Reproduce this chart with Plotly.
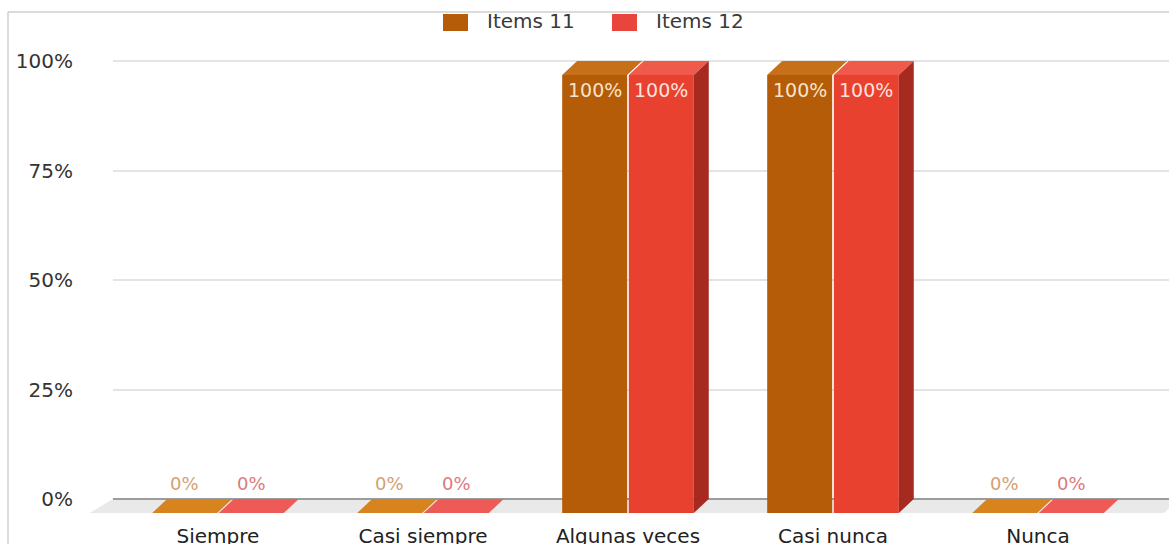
import plotly.graph_objects as go

# ---- data ----
categories = ["Siempre", "Casi siempre", "Algunas veces", "Casi nunca", "Nunca"]
items_11 = [0, 0, 100, 100, 0]
items_12 = [0, 0, 100, 100, 0]
series_names = ["Items 11", "Items 12"]
y_ticks = [0, 25, 50, 75, 100]
y_tick_labels = ["0%", "25%", "50%", "75%", "100%"]

# ---- page geometry (px) ----
W, H = 1169, 544
M_L, M_R, M_T, M_B = 113, 0, 30, 22
PW = W - M_L - M_R
PH = H - M_T - M_B

PX_PER_PCT = 4.38
ZERO_PX = 499
X_RANGE = [-0.512, 4.639]
Y_RANGE = [-(H - M_B - ZERO_PX) / PX_PER_PCT, (ZERO_PX - M_T) / PX_PER_PCT]

BAR_W = 0.317   # bar width in category units
GAP = 0.008     # gap between the two bars of a group
DX = 0.073      # 3-D depth, horizontal (category units)
DY = 3.2        # 3-D depth, vertical (percent units)

FONT = "DejaVu Sans"

# face colours per series
front = ["#B45C07", "#E8412F"]
top = ["#C6701A", "#EF5A4B"]
side = ["#9A4905", "#A62A1F"]
flat = ["#D7841F", "#EE5A55"]
label_in = ["#F7E3CC", "#FBE2DD"]
label_out = ["#D4A074", "#DC7A7C"]
legend_sq = ["#B45C07", "#E8453C"]


def paper_x(px):
    return (px - M_L) / PW


def paper_y(py):
    return (H - M_B - py) / PH


series = [items_11, items_12]
n_series = len(series)
positions = list(range(len(categories)))
offsets = [-BAR_W - GAP / 2, GAP / 2]

fig = go.Figure()

# front faces of the bars (back wall sits at the value, front face is pulled forward by DY)
for s, vals in enumerate(series):
    fig.add_trace(go.Bar(
        x=positions, y=vals, base=-DY, width=BAR_W, offset=offsets[s],
        marker=dict(color=front[s], line=dict(width=0)),
        name=series_names[s], showlegend=False, hoverinfo="skip",
    ))


def poly_trace(xs, ys, color):
    return go.Scatter(x=xs, y=ys, mode="lines", fill="toself", fillcolor=color,
                      line=dict(width=0, color=color), hoverinfo="skip",
                      showlegend=False)


annotations = []
for s, vals in enumerate(series):
    tx, ty, fx, fy, sx, sy = [], [], [], [], [], []
    for i, v in zip(positions, vals):
        x0 = i + offsets[s]
        x1 = x0 + BAR_W
        face_x = [x0, x1, x1 + DX, x0 + DX, x0, None]
        face_y = [v - DY, v - DY, v, v, v - DY, None]
        if v > 0:
            tx += face_x
            ty += face_y
            if s == n_series - 1:
                sx += [x1, x1, x1 + DX, x1 + DX, x1, None]
                sy += [-DY, v - DY, v, 0, -DY, None]
            annotations.append(dict(
                x=(x0 + x1) / 2, y=v - DY, xref="x", yref="y", text=f"{v}%",
                showarrow=False, yshift=-15,
                font=dict(family=FONT, size=19, color=label_in[s]),
            ))
        else:
            fx += face_x
            fy += face_y
            annotations.append(dict(
                x=(x0 + x1) / 2, y=v, xref="x", yref="y", text=f"{v}%",
                showarrow=False, yshift=16,
                font=dict(family=FONT, size=18, color=label_out[s]),
            ))
    if tx:
        fig.add_trace(poly_trace(tx, ty, top[s]))
    if fx:
        fig.add_trace(poly_trace(fx, fy, flat[s]))
    if sx:
        fig.add_trace(poly_trace(sx, sy, side[s]))

# legend drawn at the top centre
shapes = []
legend_sq_x = [443, 612]
legend_txt_x = [485, 654]
for s in range(n_series):
    shapes.append(dict(
        type="rect", xref="paper", yref="paper",
        x0=paper_x(legend_sq_x[s]), x1=paper_x(legend_sq_x[s] + 25),
        y0=paper_y(31), y1=paper_y(14),
        fillcolor=legend_sq[s], line=dict(width=0), layer="above",
    ))
    annotations.append(dict(
        x=paper_x(legend_txt_x[s]), y=paper_y(21), xref="paper", yref="paper",
        xanchor="left", yanchor="middle", text=series_names[s], showarrow=False,
        font=dict(family=FONT, size=20, color="#3A3A3A"),
    ))

# floor slab under the bars
fx0, fx1 = paper_x(M_L), paper_x(W + 10)
ddx = 15 / PW
shapes.append(dict(
    type="path", xref="paper", yref="y", layer="below",
    path=f"M {fx0},0 L {fx1},0 L {fx1 - ddx},{-DY} L {fx0 - ddx - 0.008},{-DY} Z",
    fillcolor="#E9E9E9", line=dict(width=0),
))

# outer frame
frame_col = "#CFCFCF"
shapes.append(dict(type="line", xref="paper", yref="paper",
                   x0=paper_x(8), x1=paper_x(W + 5), y0=paper_y(12), y1=paper_y(12),
                   line=dict(color=frame_col, width=1.5), layer="above"))
shapes.append(dict(type="line", xref="paper", yref="paper",
                   x0=paper_x(8), x1=paper_x(8), y0=paper_y(12), y1=paper_y(H + 5),
                   line=dict(color=frame_col, width=1.5), layer="above"))

fig.update_layout(
    width=W, height=H,
    margin=dict(l=M_L, r=M_R, t=M_T, b=M_B, pad=0),
    paper_bgcolor="white", plot_bgcolor="white",
    barmode="overlay",
    showlegend=False,
    font=dict(family=FONT, color="#333333"),
    shapes=shapes,
    annotations=annotations,
    xaxis=dict(
        range=X_RANGE, tickvals=positions, ticktext=categories,
        showgrid=False, zeroline=False, showline=False, ticks="",
        tickfont=dict(family=FONT, size=20, color="#222222"),
        automargin=False, fixedrange=True,
    ),
    yaxis=dict(
        range=Y_RANGE, tickvals=y_ticks, ticktext=y_tick_labels,
        showgrid=True, gridcolor="#E4E4E4", gridwidth=2,
        zeroline=True, zerolinecolor="#9C9C9C", zerolinewidth=2,
        showline=False, ticks="", ticklabelstandoff=39,
        tickfont=dict(family=FONT, size=20, color="#333333"),
        automargin=False, fixedrange=True,
    ),
)

fig.write_html("out.html")
